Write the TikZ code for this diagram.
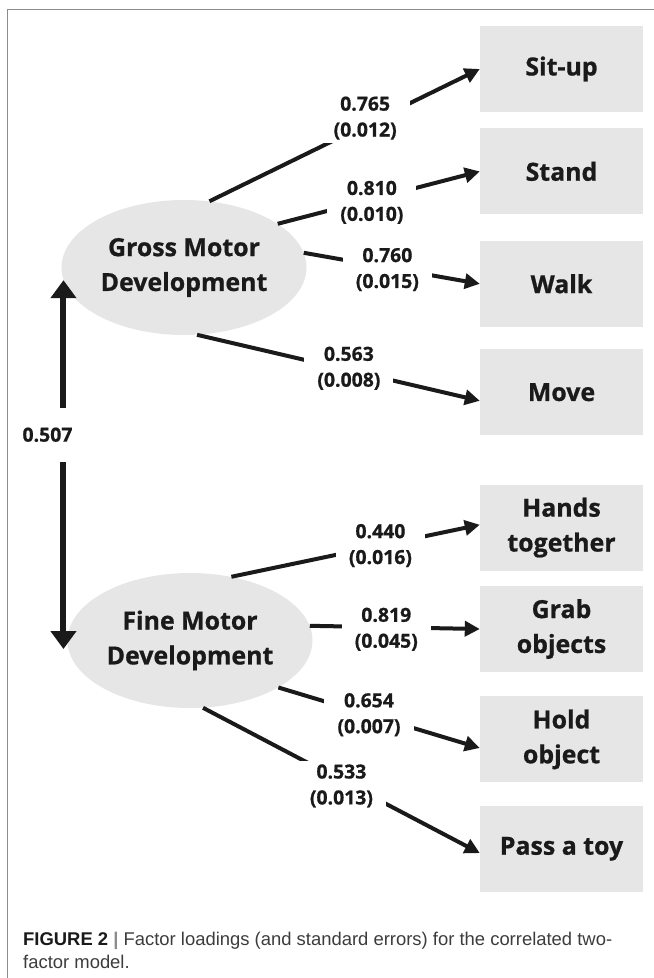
\documentclass[tikz,border=0pt]{standalone}
\usepackage{fontspec}
\setmainfont{Open Sans}[BoldFeatures={FakeBold=0.8}]
\newfontfamily\capfont{Liberation Sans}
\usepackage{xcolor}
\usepackage{tikz}
\usetikzlibrary{shapes,arrows,positioning,calc,arrows.meta}
\usetikzlibrary{shapes.geometric}
\definecolor{boxgray}{HTML}{E6E6E6}
\definecolor{inkblack}{HTML}{1A1A1A}
\definecolor{framegray}{HTML}{8C8C8C}
\definecolor{capgray}{HTML}{3C3C3C}

\begin{document}
\begin{tikzpicture}[x=1bp, y=-1bp,
    item/.style={rectangle, fill=boxgray, minimum width=163bp, minimum height=86bp, inner sep=0pt, align=center, text=inkblack, font=\fontsize{25}{35}\selectfont\bfseries},
    factor/.style={ellipse, fill=boxgray, minimum width=245bp, minimum height=135bp, inner sep=0pt, align=center, text=inkblack, font=\fontsize{25}{35}\selectfont\bfseries},
    num/.style={fill=white, inner xsep=13bp, inner ysep=3bp, align=center, text=inkblack, font=\fontsize{19.5}{26}\selectfont\bfseries},
    load/.style={draw=inkblack, line width=4bp, -{Triangle[length=15bp, width=15bp]}},
    corr/.style={draw=inkblack, line width=6bp, {Triangle[length=18bp, width=25bp]}-{Triangle[length=18bp, width=25bp]}},
    caption/.style={anchor=base west, inner sep=0pt, text=capgray, font=\capfont\fontsize{18.5}{23}\selectfont}]
    \useasboundingbox (0,0) rectangle (654,978);
    \draw[framegray, line width=1.2bp] (7.5,978) -- (7.5,9.5) -- (654,9.5);

    \node[factor] (gross) at (184,267.5) {Gross Motor\\Development};
    \node[factor] (fine) at (190,640.5) {Fine Motor\\Development};

    \node[item] (situp) at (561.5,69) {Sit-up};
    \node[item, below=16bp of situp] (stand) {Stand};
    \node[item, below=26bp of stand] (walk) {Walk};
    \node[item, below=22bp of walk] (move) {Move};
    \node[item, below=49bp of move] (hands) {Hands\\together};
    \node[item, below=15bp of hands] (grab) {Grab\\objects};
    \node[item, below=24bp of grab] (hold) {Hold\\object};
    \node[item, below=23bp of hold] (pass) {Pass a toy};

    \draw[load] (gross.69) -- node[num, pos=.576, yshift=7bp] {0.765\\(0.012)} (situp.west);
    \draw[load] (gross.25.5) -- node[num, pos=.466, yshift=-3bp] {0.810\\(0.010)} (stand.west);
    \draw[load] (gross.7.6) -- node[num, pos=.475, yshift=-2bp] {0.760\\(0.015)} (walk.west);
    \draw[load] (gross.281.6) -- node[num, pos=.537, yshift=2bp] {0.563\\(0.008)} (move.186);

    \draw[load] (fine.57) -- node[num, pos=.6] {0.440\\(0.016)} (hands.178);
    \draw[load] (fine.7.4) -- node[num, pos=.45, yshift=-2bp] {0.819\\(0.045)} (grab.west);
    \draw[load] (fine.332.4) -- node[num, pos=.45] {0.654\\(0.007)} (hold.186);
    \draw[load] (fine.281.2) -- node[num, pos=.5, yshift=-5.5bp] {0.533\\(0.013)} (pass.183);

    \draw[corr] (gross.186 |- fine.184) -- node[num, pos=.581, xshift=-16bp, inner xsep=4bp, inner ysep=20bp] {0.507} (gross.186);

    \node[caption] (cap1) at (23,945) {{\bfseries\color{inkblack}FIGURE 2} {\bfseries\color{framegray}|} Factor loadings (and standard errors) for the correlated two-};
    \node[caption] (cap2) at (23,968) {factor model.};
\end{tikzpicture}
\end{document}
